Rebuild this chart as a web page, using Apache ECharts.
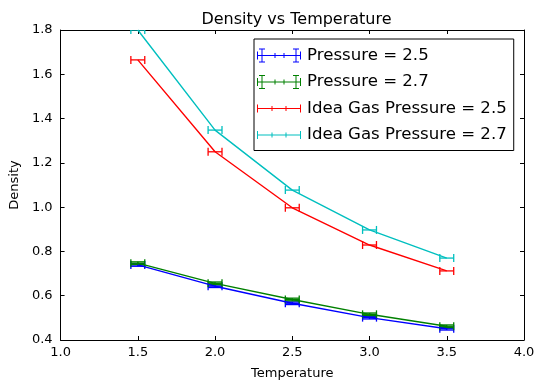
<!DOCTYPE html>
<html>
<head>
<meta charset="utf-8">
<script src="https://cdn.jsdelivr.net/npm/echarts@6/dist/echarts.min.js"></script>
<style>html,body{margin:0;padding:0;background:#fff;}#c{width:544px;height:391px;}</style>
</head>
<body>
<div id="c"></div>
<script>
var temperature = [1.5, 2.0, 2.5, 3.0, 3.5];
var seriesNames = ['Pressure = 2.5', 'Pressure = 2.7', 'Idea Gas Pressure = 2.5', 'Idea Gas Pressure = 2.7'];
var densityP25 = [0.739, 0.643, 0.566, 0.501, 0.451];
var densityP27 = [0.747, 0.656, 0.583, 0.516, 0.462];
var idealP25 = [1.665, 1.250, 0.997, 0.829, 0.712];
var idealP27 = [1.800, 1.348, 1.077, 0.897, 0.770];
var xErr = [0.045, 0.045, 0.045, 0.045, 0.045];
var yErrP = [0.006, 0.006, 0.006, 0.006, 0.006];
var yErrIdeal = [0, 0, 0, 0, 0];
var colors = ['#0000ff', '#008000', '#ff0000', '#00bfbf'];
var xTicks = [1.0, 1.5, 2.0, 2.5, 3.0, 3.5, 4.0];
var yTicks = [0.4, 0.6, 0.8, 1.0, 1.2, 1.4, 1.6, 1.8];

var allY = [densityP25, densityP27, idealP25, idealP27];
var allYErr = [yErrP, yErrP, yErrIdeal, yErrIdeal];

function pairs(ys) { return temperature.map(function (t, i) { return [t, ys[i]]; }); }

var CAP = 4;
function errItem(color, hasY) {
  return function (params, api) {
    var x = api.value(0), y = api.value(1), xe = api.value(2), ye = api.value(3);
    var l = api.coord([x - xe, y]), r = api.coord([x + xe, y]);
    var st = { stroke: color, lineWidth: 1.3 };
    var ch = [
      { type: 'line', shape: { x1: l[0], y1: l[1], x2: r[0], y2: r[1] }, style: st },
      { type: 'line', shape: { x1: l[0], y1: l[1] - CAP, x2: l[0], y2: l[1] + CAP }, style: st },
      { type: 'line', shape: { x1: r[0], y1: r[1] - CAP, x2: r[0], y2: r[1] + CAP }, style: st }
    ];
    if (hasY) {
      var t = api.coord([x, y + ye]), b = api.coord([x, y - ye]);
      ch.push({ type: 'line', shape: { x1: t[0], y1: t[1], x2: b[0], y2: b[1] }, style: st });
      ch.push({ type: 'line', shape: { x1: l[0], y1: t[1], x2: r[0], y2: t[1] }, style: st });
      ch.push({ type: 'line', shape: { x1: l[0], y1: b[1], x2: r[0], y2: b[1] }, style: st });
    }
    return { type: 'group', children: ch };
  };
}

var iconErrY = 'path://M0 6.5h44v1h-44z M0 3h1v8h-1z M43 3h1v8h-1z M4.5 0h1v14h-1z M2 0h6v1h-6z M2 13h6v1h-6z M38.5 0h1v14h-1z M36 0h6v1h-6z M36 13h6v1h-6z M17.5 4.5h1v5h-1z M26.5 4.5h1v5h-1z';
var iconErrX = 'path://M0 6.5h44v1h-44z M0 3h1v8h-1z M43 3h1v8h-1z M14.5 4.5h1v5h-1z M28.5 4.5h1v5h-1z';

var series = [];
allY.forEach(function (ys, k) {
  series.push({
    name: seriesNames[k], type: 'line', data: pairs(ys), symbol: 'none',
    lineStyle: { color: colors[k], width: 1.4 }, itemStyle: { color: colors[k] },
    silent: true, animation: false, clip: true
  });
  series.push({
    name: seriesNames[k], type: 'custom', renderItem: errItem(colors[k], k < 2),
    data: temperature.map(function (t, i) { return [t, ys[i], xErr[i], allYErr[k][i]]; }),
    itemStyle: { color: colors[k] }, animation: false, silent: true, clip: true, z: 3
  });
});

var axisCommonX = { type: 'value', min: 1.0, max: 4.0, interval: 0.5 };
var axisCommonY = { type: 'value', min: 0.4, max: 1.8, interval: 0.2 };
var lbl = { color: '#000', fontFamily: 'DejaVu Sans', fontSize: 13 };

var chart = echarts.init(document.getElementById('c'), null, { renderer: 'canvas' });
chart.setOption({
  animation: false,
  backgroundColor: '#fff',
  title: {
    text: 'Density vs Temperature', left: 291.5, top: 7, textAlign: 'center',
    textStyle: { fontFamily: 'DejaVu Sans', fontSize: 16, fontWeight: 'normal', color: '#000' }
  },
  grid: { left: 59, right: 20, top: 30, bottom: 51 },
  legend: {
    orient: 'vertical', left: 254, top: 39,
    backgroundColor: '#fff', borderColor: '#000', borderWidth: 1, borderRadius: 0,
    padding: [8, 7, 7, 3], itemGap: 9.5, itemWidth: 44, itemHeight: 14,
    textStyle: { fontFamily: 'DejaVu Sans', fontSize: 16.6, color: '#000', padding: [0, 0, 0, 1] },
    selectedMode: false,
    data: [
      { name: seriesNames[0], icon: iconErrY, itemStyle: { color: colors[0] } },
      { name: seriesNames[1], icon: iconErrY, itemStyle: { color: colors[1] } },
      { name: seriesNames[2], icon: iconErrX, itemStyle: { color: colors[2] } },
      { name: seriesNames[3], icon: iconErrX, itemStyle: { color: colors[3] } }
    ]
  },
  xAxis: [
    Object.assign({}, axisCommonX, {
      position: 'bottom', name: 'Temperature', nameLocation: 'middle', nameGap: 27,
      nameTextStyle: { fontFamily: 'DejaVu Sans', fontSize: 13, color: '#000' },
      axisLine: { onZero: false, lineStyle: { color: '#000', width: 1 } },
      axisTick: { inside: true, length: 4, lineStyle: { color: '#000' } },
      axisLabel: Object.assign({ margin: 6, formatter: function (v) { return v.toFixed(1); } }, lbl),
      splitLine: { show: false }
    }),
    Object.assign({}, axisCommonX, {
      position: 'top',
      axisLine: { onZero: false, lineStyle: { color: '#000', width: 1 } },
      axisTick: { inside: true, length: 4, lineStyle: { color: '#000' } },
      axisLabel: { show: false }, splitLine: { show: false }
    })
  ],
  yAxis: [
    Object.assign({}, axisCommonY, {
      position: 'left', name: 'Density', nameLocation: 'middle', nameGap: 33, nameRotate: 90,
      nameTextStyle: { fontFamily: 'DejaVu Sans', fontSize: 13, color: '#000' },
      axisLine: { show: true, onZero: false, lineStyle: { color: '#000', width: 1 } },
      axisTick: { show: true, inside: true, length: 4, lineStyle: { color: '#000' } },
      axisLabel: Object.assign({ margin: 8, formatter: function (v) { return v.toFixed(1); } }, lbl),
      splitLine: { show: false }
    }),
    Object.assign({}, axisCommonY, {
      position: 'right',
      axisLine: { show: true, onZero: false, lineStyle: { color: '#000', width: 1 } },
      axisTick: { show: true, inside: true, length: 4, lineStyle: { color: '#000' } },
      axisLabel: { show: false }, splitLine: { show: false }
    })
  ],
  series: series
});
</script>
</body>
</html>
